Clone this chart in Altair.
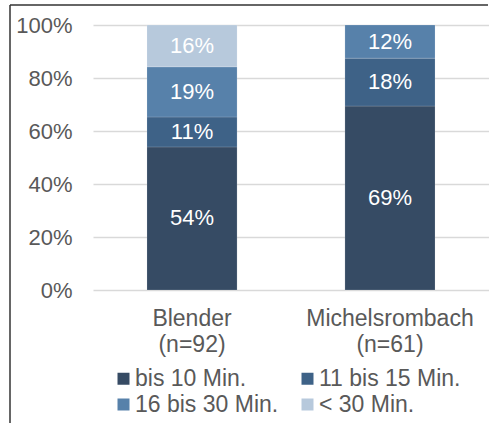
import altair as alt
import pandas as pd

categories = ["Blender\n(n=92)", "Michelsrombach\n(n=61)"]
groups = ["bis 10 Min.", "11 bis 15 Min.", "16 bis 30 Min.", "< 30 Min."]
blender = [54.0, 11.3, 18.9, 15.8]
michelsrombach = [69.4, 18.1, 12.5, 0.0]
colors = ["#364B64", "#3E6287", "#5781AA", "#B7C9DC"]

rows = []
for cat, vals in zip(categories, [blender, michelsrombach]):
    for i, (g, v) in enumerate(zip(groups, vals)):
        if v > 0:
            rows.append({"cat": cat, "group": g, "value": v, "ord": i,
                         "label": f"{round(v)}%"})
df = pd.DataFrame(rows)

FONT = "Liberation Sans"
FS = 23

x_enc = alt.X("cat:N", sort=categories, title=None,
              scale=alt.Scale(paddingInner=0.545, paddingOuter=0.2727),
              axis=alt.Axis(labelExpr="split(datum.label, '\\n')", labelAngle=0,
                            labelFontSize=FS, labelColor="#595959", labelFont=FONT,
                            labelPadding=17, labelLineHeight=26, ticks=False,
                            domain=False, labelBaseline="top", grid=False))

base = alt.Chart(df)

bars = base.mark_bar(stroke="white", strokeWidth=0.5, strokeOpacity=0.3).encode(
    x=x_enc,
    y=alt.Y("value:Q", stack="zero", title=None,
            scale=alt.Scale(domain=[0, 100]),
            axis=alt.Axis(values=[0, 20, 40, 60, 80, 100], labelExpr="datum.value + '%'",
                          labelFontSize=22, labelColor="#595959", labelFont=FONT,
                          labelPadding=21, ticks=False, domain=False,
                          gridColor="#D9D9D9", gridWidth=1.5)),
    color=alt.Color("group:N", sort=groups,
                    scale=alt.Scale(domain=groups, range=colors),
                    legend=alt.Legend(title=None, orient="none", legendX=19, legendY=342,
                                      direction="horizontal", columns=2,
                                      columnPadding=17, rowPadding=2,
                                      symbolType="square", symbolSize=144,
                                      symbolStrokeWidth=0, symbolOpacity=1,
                                      labelFontSize=FS, labelColor="#595959",
                                      labelFont=FONT, labelOffset=0,
                                      labelLimit=300)),
    order=alt.Order("ord:Q"),
)

labels = base.transform_stack(
    stack="value", groupby=["cat"], as_=["y0", "y1"],
    sort=[alt.SortField("ord", order="ascending")]
).transform_calculate(mid="(datum.y0 + datum.y1) / 2").mark_text(
    color="white", fontSize=22, font=FONT, baseline="middle"
).encode(
    x=alt.X("cat:N", sort=categories),
    y=alt.Y("mid:Q"),
    text="label:N",
)

frame_left = alt.Chart(pd.DataFrame({"k": [0]})).mark_rule(color="#333333", strokeWidth=1.5).encode(
    x=alt.value(-83), y=alt.value(-20), y2=alt.value(400))
frame_top = alt.Chart(pd.DataFrame({"k": [0]})).mark_rule(color="#333333", strokeWidth=1.5).encode(
    x=alt.value(-83), x2=alt.value(395), y=alt.value(-20))

chart = alt.layer(bars, labels, frame_left, frame_top).properties(
    width=396, height=265,
    background="white",
    autosize=alt.AutoSizeParams(type="none"),
    padding={"left": 93, "top": 25, "right": 0, "bottom": 133},
).configure_view(stroke=None)

chart.save("out.html", embed_options={"renderer": "svg", "actions": False})
